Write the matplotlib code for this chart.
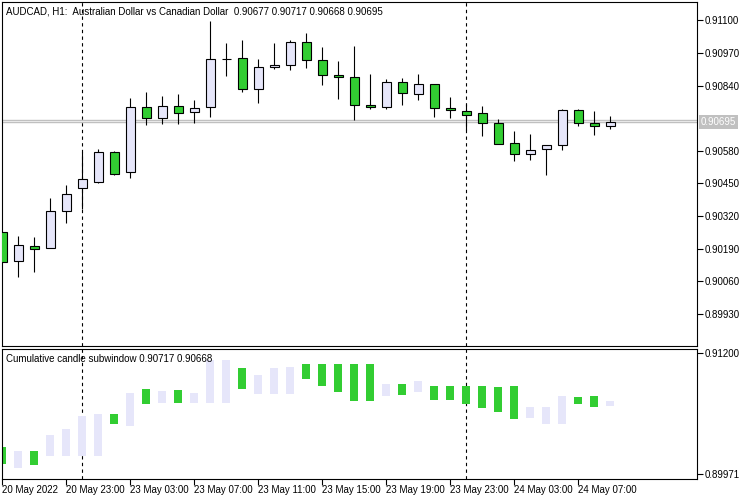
import matplotlib
matplotlib.use("Agg")
import matplotlib.pyplot as plt
import numpy as np

plt.rcParams['font.family'] = ['Liberation Sans', 'DejaVu Sans']

# AUDCAD H1 candles, 20 May 19:00 .. 24 May 09:00
opens = [0.90255, 0.90140, 0.90202, 0.90192, 0.90339, 0.90431, 0.90457, 0.90574,
         0.90494, 0.90753, 0.90710, 0.90759, 0.90734, 0.90753, 0.90947, 0.90949,
         0.90825, 0.90913, 0.90921, 0.91012, 0.90941, 0.90881, 0.90873, 0.90761,
         0.90753, 0.90853, 0.90805, 0.90845, 0.90752, 0.90737, 0.90730, 0.90690,
         0.90610, 0.90566, 0.90586, 0.90602, 0.90741, 0.90690, 0.90677]
highs = [0.90255, 0.90241, 0.90235, 0.90391, 0.90444, 0.90574, 0.90586, 0.90578,
         0.90790, 0.90814, 0.90798, 0.90806, 0.90782, 0.91097, 0.91008, 0.91022,
         0.90945, 0.91008, 0.91022, 0.91049, 0.90994, 0.90938, 0.90998, 0.90886,
         0.90865, 0.90869, 0.90886, 0.90845, 0.90793, 0.90767, 0.90759, 0.90706,
         0.90658, 0.90647, 0.90602, 0.90745, 0.90745, 0.90739, 0.90717]
lows = [0.90136, 0.90078, 0.90098, 0.90192, 0.90294, 0.90347, 0.90452, 0.90485,
        0.90473, 0.90683, 0.90686, 0.90686, 0.90690, 0.90716, 0.90879, 0.90816,
        0.90769, 0.90905, 0.90903, 0.90911, 0.90843, 0.90788, 0.90704, 0.90745,
        0.90748, 0.90764, 0.90784, 0.90716, 0.90712, 0.90662, 0.90640, 0.90606,
        0.90538, 0.90542, 0.90485, 0.90584, 0.90678, 0.90644, 0.90668]
closes = [0.90136, 0.90204, 0.90188, 0.90339, 0.90407, 0.90467, 0.90574, 0.90489,
          0.90753, 0.90710, 0.90759, 0.90730, 0.90749, 0.90945, 0.90947, 0.90825,
          0.90913, 0.90921, 0.91012, 0.90941, 0.90881, 0.90873, 0.90761, 0.90753,
          0.90853, 0.90809, 0.90845, 0.90749, 0.90741, 0.90722, 0.90690, 0.90606,
          0.90566, 0.90582, 0.90602, 0.90741, 0.90690, 0.90678, 0.90695]

# subwindow bars (top, bottom)
sub_top = [0.90246, 0.90205, 0.90205, 0.90368, 0.90429, 0.90562, 0.90582, 0.90582,
           0.90796, 0.90837, 0.90816, 0.90826, 0.90796, 0.91132, 0.91132, 0.91050,
           0.90979, 0.91050, 0.91061, 0.91091, 0.91091, 0.91091, 0.91091, 0.91091,
           0.90887, 0.90887, 0.90918, 0.90867, 0.90867, 0.90867, 0.90867, 0.90857,
           0.90867, 0.90653, 0.90653, 0.90765, 0.90755, 0.90765, 0.90717]
sub_bottom = [0.90073, 0.90032, 0.90063, 0.90154, 0.90154, 0.90154, 0.90154, 0.90480,
              0.90460, 0.90684, 0.90694, 0.90694, 0.90694, 0.90694, 0.90694, 0.90837,
              0.90786, 0.90786, 0.90786, 0.90938, 0.90867, 0.90806, 0.90714, 0.90714,
              0.90765, 0.90775, 0.90806, 0.90724, 0.90724, 0.90684, 0.90643, 0.90602,
              0.90531, 0.90541, 0.90480, 0.90480, 0.90684, 0.90653, 0.90668]

main_ticks = [0.91100, 0.90970, 0.90840, 0.90580, 0.90450, 0.90320, 0.90190, 0.90060, 0.89930]
sub_ticks = [0.91200, 0.89971]
time_ticks = [0, 4, 8, 12, 16, 20, 24, 28, 32, 36]
time_labels = ["20 May 2022", "20 May 23:00", "23 May 03:00", "23 May 07:00", "23 May 11:00",
               "23 May 15:00", "23 May 19:00", "23 May 23:00", "24 May 03:00", "24 May 07:00"]
day_breaks = [5, 29]
bid, ask = 0.90695, 0.90704

BULL = "#E6E6FA"
BEAR = "#32CD32"

o = np.array(opens); h = np.array(highs); l = np.array(lows); c = np.array(closes)
x = np.arange(len(o))
colors = [BEAR if cc < oo else BULL for oo, cc in zip(o, c)]

fig = plt.figure(figsize=(7.5, 5), dpi=100)
ax = fig.add_axes([0.0027, 0.308, 0.9267, 0.688])
ax2 = fig.add_axes([0.0027, 0.042, 0.9267, 0.26])

for a in (ax, ax2):
    for s in a.spines.values():
        s.set_linewidth(0.8)
    a.set_xlim(-0.02, 43.42)
    a.yaxis.tick_right()
    a.tick_params(axis='y', direction='out', length=4, width=0.8, labelsize=7, pad=1.5)
    for xb in day_breaks:
        a.axvline(xb, color='black', lw=0.8, ls=(0, (3, 3)), zorder=1)

# main candles
ax.axhline(bid, color='#C0C0C0', lw=1, zorder=1)
ax.axhline(ask, color='#C0C0C0', lw=1, zorder=1)
ax.vlines(x, l, h, color='black', lw=0.8, zorder=2)
ax.bar(x, np.abs(c - o), bottom=np.minimum(o, c), width=0.57, color=colors,
       edgecolor='black', linewidth=0.8, zorder=3)
ax.set_ylim(0.89802, 0.91173)
ax.set_yticks(main_ticks)
ax.set_yticklabels([f"{t:.5f}" for t in main_ticks])
ax.set_xticks([])
ax.text(0.006, 0.988, "AUDCAD, H1:  Australian Dollar vs Canadian Dollar  0.90677 0.90717 0.90668 0.90695",
        transform=ax.transAxes, fontsize=7, va='top', ha='left')
ax.text(1.005, bid, "0.90695", transform=ax.get_yaxis_transform(), fontsize=7, color='white',
        va='center', ha='left', clip_on=False,
        bbox=dict(boxstyle='square,pad=0.2', fc='#C0C0C0', ec='none'))

# subwindow
st = np.array(sub_top); sb = np.array(sub_bottom)
ax2.bar(x, st - sb, bottom=sb, width=0.5, color=colors, linewidth=0, zorder=2)
ax2.set_ylim(0.89920, 0.91244)
ax2.set_yticks(sub_ticks)
ax2.set_yticklabels([f"{t:.5f}" for t in sub_ticks])
ax2.set_xticks(time_ticks)
ax2.set_xticklabels(time_labels, ha='left')
ax2.tick_params(axis='x', direction='out', length=4, width=0.8, labelsize=7, pad=0.5)
ax2.text(0.006, 0.96, "Cumulative candle subwindow 0.90717 0.90668",
         transform=ax2.transAxes, fontsize=7, va='top', ha='left')

fig.savefig("out.png", dpi=100)
